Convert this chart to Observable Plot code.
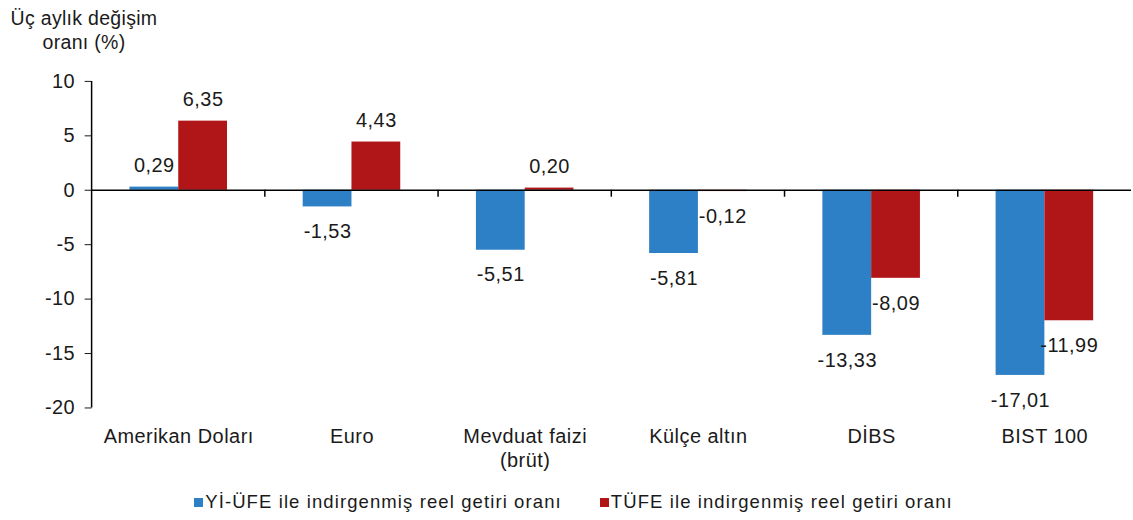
<!DOCTYPE html>
<html><head><meta charset="utf-8">
<script src="https://cdn.jsdelivr.net/npm/d3@7"></script>
<script src="https://cdn.jsdelivr.net/npm/@observablehq/plot@0.6"></script>
<style>
html,body{margin:0;overflow:hidden;}
body{background:#fff;font-family:"Liberation Sans",Arial,sans-serif;color:#1a1a1a;width:1133px;}
#title{position:relative;height:61px;}
#title div{position:absolute;left:4px;top:6px;width:160px;text-align:center;font-size:19.5px;line-height:24px;letter-spacing:0.3px;}
#chart{height:420px;width:1133px;overflow:hidden;}
#chart svg text{letter-spacing:0.5px;}
#legend{height:42px;display:flex;justify-content:center;align-items:center;font-size:18.5px;letter-spacing:1.1px;gap:38px;padding-left:14px;}
#legend .item{display:inline-flex;align-items:center;}
#legend .item i{display:inline-block;width:9px;height:9px;margin-right:2px;}
</style></head><body>
<div id="title"><div>Üç aylık değişim<br>oranı (%)</div></div>
<div id="chart"></div>
<div id="legend"></div>
<script>
const categories = ["Amerikan Doları", "Euro", "Mevduat faizi\n(brüt)", "Külçe altın", "DİBS", "BIST 100"];
const seriesNames = ["Yİ-ÜFE ile indirgenmiş reel getiri oranı", "TÜFE ile indirgenmiş reel getiri oranı"];
const yiufeValues = [0.29, -1.53, -5.51, -5.81, -13.33, -17.01];
const tufeValues = [6.35, 4.43, 0.20, -0.12, -8.09, -11.99];
const yTicks = [-20, -15, -10, -5, 0, 5, 10];
const colors = ["#2E80C6", "#B01618"];

const data = categories.flatMap((c, i) => [
  {category: c, series: seriesNames[0], value: yiufeValues[i]},
  {category: c, series: seriesNames[1], value: tufeValues[i]}
]);
const fmt = v => v.toFixed(2).replace(".", ",");

const chart = Plot.plot({
  width: 1138, height: 420,
  marginTop: 20, marginBottom: 72, marginLeft: 90, marginRight: 0,
  style: {fontFamily: "'Liberation Sans', Arial, sans-serif", fontSize: "20px", color: "#1a1a1a", background: "#fff"},
  fx: {domain: categories, padding: 0, label: null},
  x: {domain: seriesNames, paddingInner: 0, paddingOuter: 0.76, axis: null},
  y: {domain: [d3.min(yTicks), d3.max(yTicks)], label: null},
  color: {domain: seriesNames, range: colors},
  marks: [
    Plot.barY(data, {fx: "category", x: "series", y: "value", fill: "series"}),
    Plot.ruleY([0], {stroke: "#000", strokeWidth: 1.5}),
    Plot.text(data.filter(d => d.value >= 0), {fx: "category", x: "series", y: "value", text: d => fmt(d.value), dy: -22, fontSize: 20, fill: "#1a1a1a"}),
    Plot.text(data.filter(d => d.value < 0), {fx: "category", x: "series", y: "value", text: d => fmt(d.value), dy: 25, fontSize: 20, fill: "#1a1a1a"}),
    Plot.axisY({ticks: yTicks, tickSize: 7, tickPadding: 10, tickFormat: d => String(d), fontSize: 20, label: null}),
    Plot.axisFx({anchor: "bottom", tickSize: 0, tickPadding: 18, fontSize: 20, label: null, lineHeight: 1.2}),
    Plot.ruleY(categories, {
      fx: d => d, y: 0,
      render(index, scales, values, dimensions) {
        const x0 = dimensions.marginLeft;
        const g = d3.create("svg:g").attr("stroke", "#000").attr("stroke-width", 1.5);
        for (const i of index) {
          if (i === 0) {
            g.append("line").attr("x1", x0).attr("x2", x0)
              .attr("y1", scales.y(d3.max(yTicks))).attr("y2", scales.y(d3.min(yTicks)));
          } else {
            g.append("line").attr("x1", x0).attr("x2", x0)
              .attr("y1", scales.y(0)).attr("y2", scales.y(0) + 7);
          }
        }
        return g.node();
      }
    })
  ]
});
document.getElementById("chart").append(chart);

const legend = document.getElementById("legend");
seriesNames.forEach((s, i) => {
  const item = document.createElement("span");
  item.className = "item";
  const sw = document.createElement("i");
  sw.style.background = colors[i];
  item.append(sw, document.createTextNode(s));
  legend.append(item);
});
</script>
</body></html>
